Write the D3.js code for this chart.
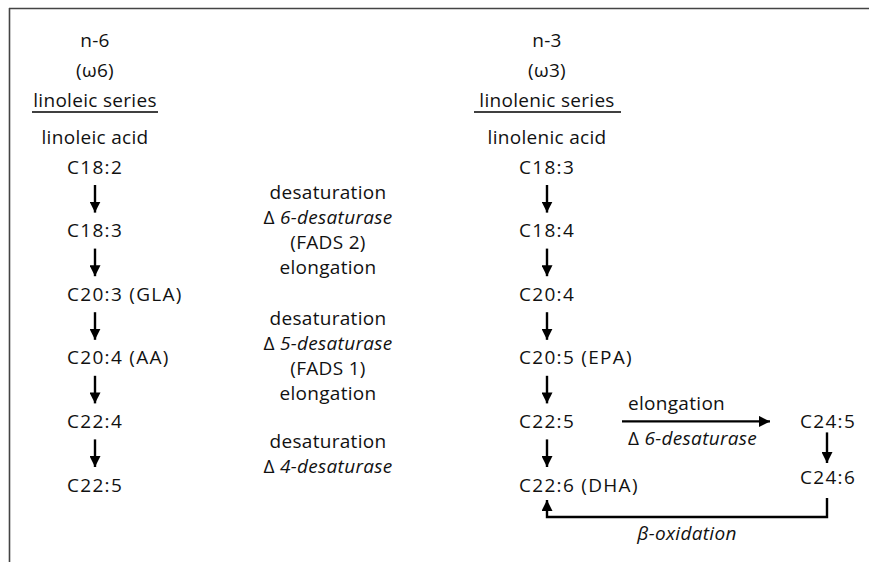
<!DOCTYPE html>
<html><head><meta charset="utf-8">
<script src="https://cdn.jsdelivr.net/npm/d3@7"></script>
<style>body{margin:0;background:#fff}svg{display:block}text{font-family:"Open Sans",sans-serif;font-size:19px;letter-spacing:0.3px;fill:#111}text.chem{letter-spacing:1.3px}</style>
</head><body><svg id="c" width="869" height="562"></svg>
<script>
// ---- data ----
const n6Header = ["n-6", "(ω6)", "linoleic series", "linoleic acid"];
const n3Header = ["n-3", "(ω3)", "linolenic series", "linolenic acid"];
const n6Chain = ["C18:2", "C18:3", "C20:3 (GLA)", "C20:4 (AA)", "C22:4", "C22:5"];
const n3Chain = ["C18:3", "C18:4", "C20:4", "C20:5 (EPA)", "C22:5", "C22:6 (DHA)"];
// middle annotation: [group, line, upright prefix, italic part]
const midLines = [
  [0,0,"desaturation",""],[0,1,"Δ ","6-desaturase"],[0,2,"(FADS 2)",""],[0,3,"elongation",""],
  [1,0,"desaturation",""],[1,1,"Δ ","5-desaturase"],[1,2,"(FADS 1)",""],[1,3,"elongation",""],
  [2,0,"desaturation",""],[2,1,"Δ ","4-desaturase"]
];
const sideChain = ["C24:5", "C24:6"];
const sideLabels = {elong:"elongation", desat:["Δ ","6-desaturase"], beta:["β","-oxidation"]};

// ---- scales ----
const svg = d3.select("#c");
const yRow = d3.scaleLinear().domain([0,5]).range([167,485]);   // chain rows
const yHead = d3.scaleOrdinal().domain([0,1,2,3]).range([40,70,100,137]);
const yMidGroup = d3.scaleOrdinal().domain([0,1,2]).range([192,318,441]);
const lineStep = 25.3;
const col = {n6:95, n6Left:67, mid:328, n3:547, n3Left:519, side:827, sideLeft:800};
const dy = 6.5; // baseline offset from centre
const SW = 2.4;

// border
svg.append("line").attr("x1",9.5).attr("y1",8).attr("x2",9.5).attr("y2",562).attr("stroke","#444").attr("stroke-width",1.6);
svg.append("line").attr("x1",9).attr("y1",8.5).attr("x2",869).attr("y2",8.5).attr("stroke","#444").attr("stroke-width",1.6);

const defs = svg.append("defs");
defs.append("marker").attr("id","ah").attr("viewBox","0 0 10 10").attr("refX",10).attr("refY",5)
  .attr("markerWidth",11).attr("markerHeight",11).attr("markerUnits","userSpaceOnUse").attr("orient","auto")
  .append("path").attr("d","M0,0L10,5L0,10Z").attr("fill","#000");

function headers(arr, cx){
  svg.append("g").selectAll("text").data(arr).join("text")
    .attr("x",cx).attr("y",(d,i)=>yHead(i)+dy).attr("text-anchor","middle").text(d=>d);
}
headers(n6Header, col.n6);
headers(n3Header, col.n3);
// underlines
svg.append("line").attr("x1",32).attr("x2",158).attr("y1",112).attr("y2",112).attr("stroke","#000").attr("stroke-width",1.4);
svg.append("line").attr("x1",474).attr("x2",621).attr("y1",112).attr("y2",112).attr("stroke","#000").attr("stroke-width",1.4);

function chain(arr, left, ax){
  svg.append("g").selectAll("text").data(arr).join("text").attr("class","chem")
    .attr("x",left).attr("y",(d,i)=>yRow(i)+dy).text(d=>d);
  svg.append("g").selectAll("line").data(arr.slice(1)).join("line")
    .attr("x1",ax).attr("x2",ax)
    .attr("y1",(d,i)=>yRow(i)+18).attr("y2",(d,i)=>yRow(i+1)-18)
    .attr("stroke","#000").attr("stroke-width",SW).attr("marker-end","url(#ah)");
}
chain(n6Chain, col.n6Left, col.n6);
chain(n3Chain, col.n3Left, col.n3);

// middle annotations
const mt = svg.append("g").selectAll("text").data(midLines).join("text")
  .attr("x",col.mid).attr("y",d=>yMidGroup(d[0])+d[1]*lineStep+dy).attr("text-anchor","middle");
mt.append("tspan").text(d=>d[2]);
mt.append("tspan").style("font-style","italic").text(d=>d[3]);

// side branch C22:5 -> C24:5
const ySide = d3.scaleLinear().domain([0,1]).range([yRow(4), 477]);
svg.append("line").attr("x1",622).attr("x2",770).attr("y1",yRow(4)).attr("y2",yRow(4))
  .attr("stroke","#000").attr("stroke-width",SW).attr("marker-end","url(#ah)");
svg.append("text").attr("x",628).attr("y",403+dy).text(sideLabels.elong);
const dt = svg.append("text").attr("x",628).attr("y",438+dy);
dt.append("tspan").text(sideLabels.desat[0]);
dt.append("tspan").style("font-style","italic").text(sideLabels.desat[1]);

svg.append("g").selectAll("text").data(sideChain).join("text").attr("class","chem")
  .attr("x",col.sideLeft).attr("y",(d,i)=>ySide(i)+dy).text(d=>d);
svg.append("line").attr("x1",col.side).attr("x2",col.side).attr("y1",ySide(0)+11).attr("y2",ySide(1)-14)
  .attr("stroke","#000").attr("stroke-width",SW).attr("marker-end","url(#ah)");

// beta-oxidation return path
svg.append("path").attr("d",d3.line()([[col.side,ySide(1)+21],[col.side,517],[col.n3,517],[col.n3,yRow(5)+15]]))
  .attr("fill","none").attr("stroke","#000").attr("stroke-width",SW).attr("marker-end","url(#ah)");
const bt = svg.append("text").attr("x",687).attr("y",533+dy).attr("text-anchor","middle").style("font-style","italic");
bt.append("tspan").text(sideLabels.beta[0]);
bt.append("tspan").text(sideLabels.beta[1]);
</script></body></html>
